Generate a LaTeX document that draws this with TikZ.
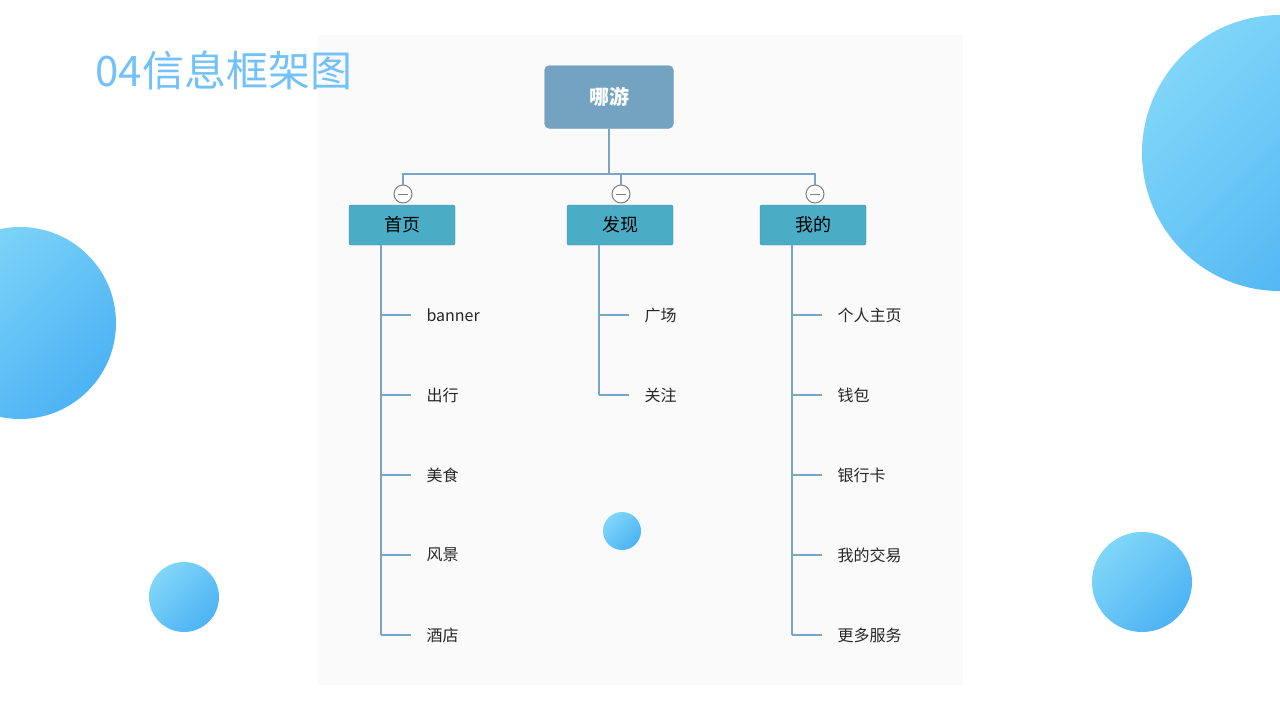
\documentclass[tikz,border=0pt]{standalone}
\usepackage{fontspec}
\setmainfont{Noto Sans CJK SC}
\usetikzlibrary{positioning}
\definecolor{rootblue}{HTML}{73A3C1}
\definecolor{kidblue}{HTML}{4BACC6}
\definecolor{linkblue}{HTML}{7AA6C6}
\definecolor{ballhi}{HTML}{80D6F8}
\definecolor{balllo}{HTML}{4DB3F4}
\tikzset{
  wurzel/.style={rectangle, rounded corners=5pt, draw=linkblue, fill=rootblue, minimum width=129pt, minimum height=63pt, text=white, font=\fontsize{20}{24}\selectfont\bfseries},
  kind/.style={rectangle, rounded corners=2pt, draw=kidblue!80!black, fill=kidblue, minimum width=106pt, minimum height=40pt, font=\fontsize{18}{22}\selectfont},
  blatt/.style={anchor=west, font=\fontsize{16}{20}\selectfont, text=black!85},
  knopf/.style={circle, draw=gray, fill=white, minimum size=18pt, inner sep=0pt, line width=1pt},
  link/.style={draw=linkblue, line width=1.2pt},
  kugel/.style={left color=ballhi, right color=balllo, shading angle=45}
}
\begin{document}
\begin{tikzpicture}[x=1pt, y=-1pt]
  \useasboundingbox (0,0) rectangle (1280,720);
  \fill[white] (0,0) rectangle (1280,720);
  \fill[black!2] (318,35) rectangle (963,685);
  % Deko
  \shade[kugel] (20,323) circle (96);
  \shade[kugel] (1280,153) circle (138);
  \shade[kugel] (184,597) circle (35);
  \shade[kugel] (622,531) circle (19);
  \shade[kugel] (1142,582) circle (50);
  \node (titel) [anchor=west, text=ballhi!90!blue, font=\fontsize{42}{48}\selectfont] at (92,70) {04信息框架图};

  \node (root) [wurzel] at (609,97) {哪游};
  \node (k1) [kind] at (402,225) {首页};
  \node (k2) [kind] at (620,225) {发现};
  \node (k3) [kind] at (813,225) {我的};
  \coordinate (mitte) at (609,174);
  \draw [link] (root) -- (mitte);
  \draw [link] (403,194) |- (815,174) -- (815,194);
  \draw [link] (621,174) -- (621,194);
  \foreach \x/\n in {403/a, 621/b, 815/c}{
    \node (knopf\n) [knopf] at (\x,194) {};
    \draw [gray, line width=1pt] (\x-5,194) -- (\x+5,194);
  }

  % Zweige
  \foreach \s/\i/\t in {381/1/banner, 381/2/出行, 381/3/美食, 381/4/风景, 381/5/酒店,
                        599/1/广场, 599/2/关注,
                        792/1/个人主页, 792/2/钱包, 792/3/银行卡, 792/4/我的交易, 792/5/更多服务}{
    \node (b\s\i) [blatt] at (\s+42,235+80*\i) {\t};
    \draw [link] (\s,235+80*\i) -- ++(30,0);
  }
  \draw [link] (k1.south -| 381,0) -- (381,635);
  \draw [link] (k2.south -| 599,0) -- (599,395);
  \draw [link] (k3.south -| 792,0) -- (792,635);
\end{tikzpicture}
\end{document}
